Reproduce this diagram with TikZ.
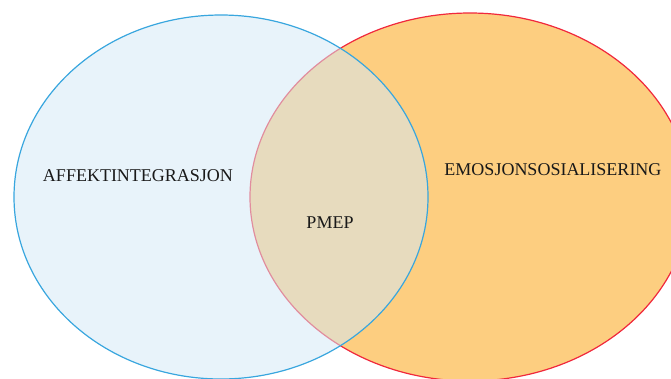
\documentclass[tikz,border=0pt]{standalone}
\usepackage{fontspec}
\setmainfont{Liberation Serif}
\usepackage{xcolor}

\definecolor{setblue}{RGB}{56,166,222}
\definecolor{setlight}{RGB}{212,232,246}
\definecolor{setred}{RGB}{240,40,60}
\definecolor{setorange}{RGB}{253,206,128}

\tikzset{
  setlabel/.style={anchor=base, inner sep=0pt, text=black!90,
    font=\fontsize{18}{20}\selectfont}
}

\begin{document}
\begin{tikzpicture}[x=1pt,y=1pt]
        % 画布大小
        \useasboundingbox (0,0) rectangle (671,-378);
        \clip (0,0) rectangle (671,-378);

        % 两个椭圆的中心
        \coordinate (L) at (221,-197);
        \coordinate (R) at (470,-197);

        % 绘制两个集合
        \filldraw [draw=setred, fill=setorange, line width=1.2pt] (R) ellipse [x radius=220pt, y radius=184pt];
        \filldraw [draw=setblue, fill=setlight, fill opacity=0.53, line width=1.2pt] (L) ellipse [x radius=207pt, y radius=182pt];

        % 标签
        \node [setlabel] (affekt) at (138,-181) {AFFEKTINTEGRASJON};
        \node [setlabel] (emosjon) at (553,-175) {EMOSJONSOSIALISERING};
        \node [setlabel] (pmep) at (330,-228) {PMEP};
    \end{tikzpicture}
\end{document}
